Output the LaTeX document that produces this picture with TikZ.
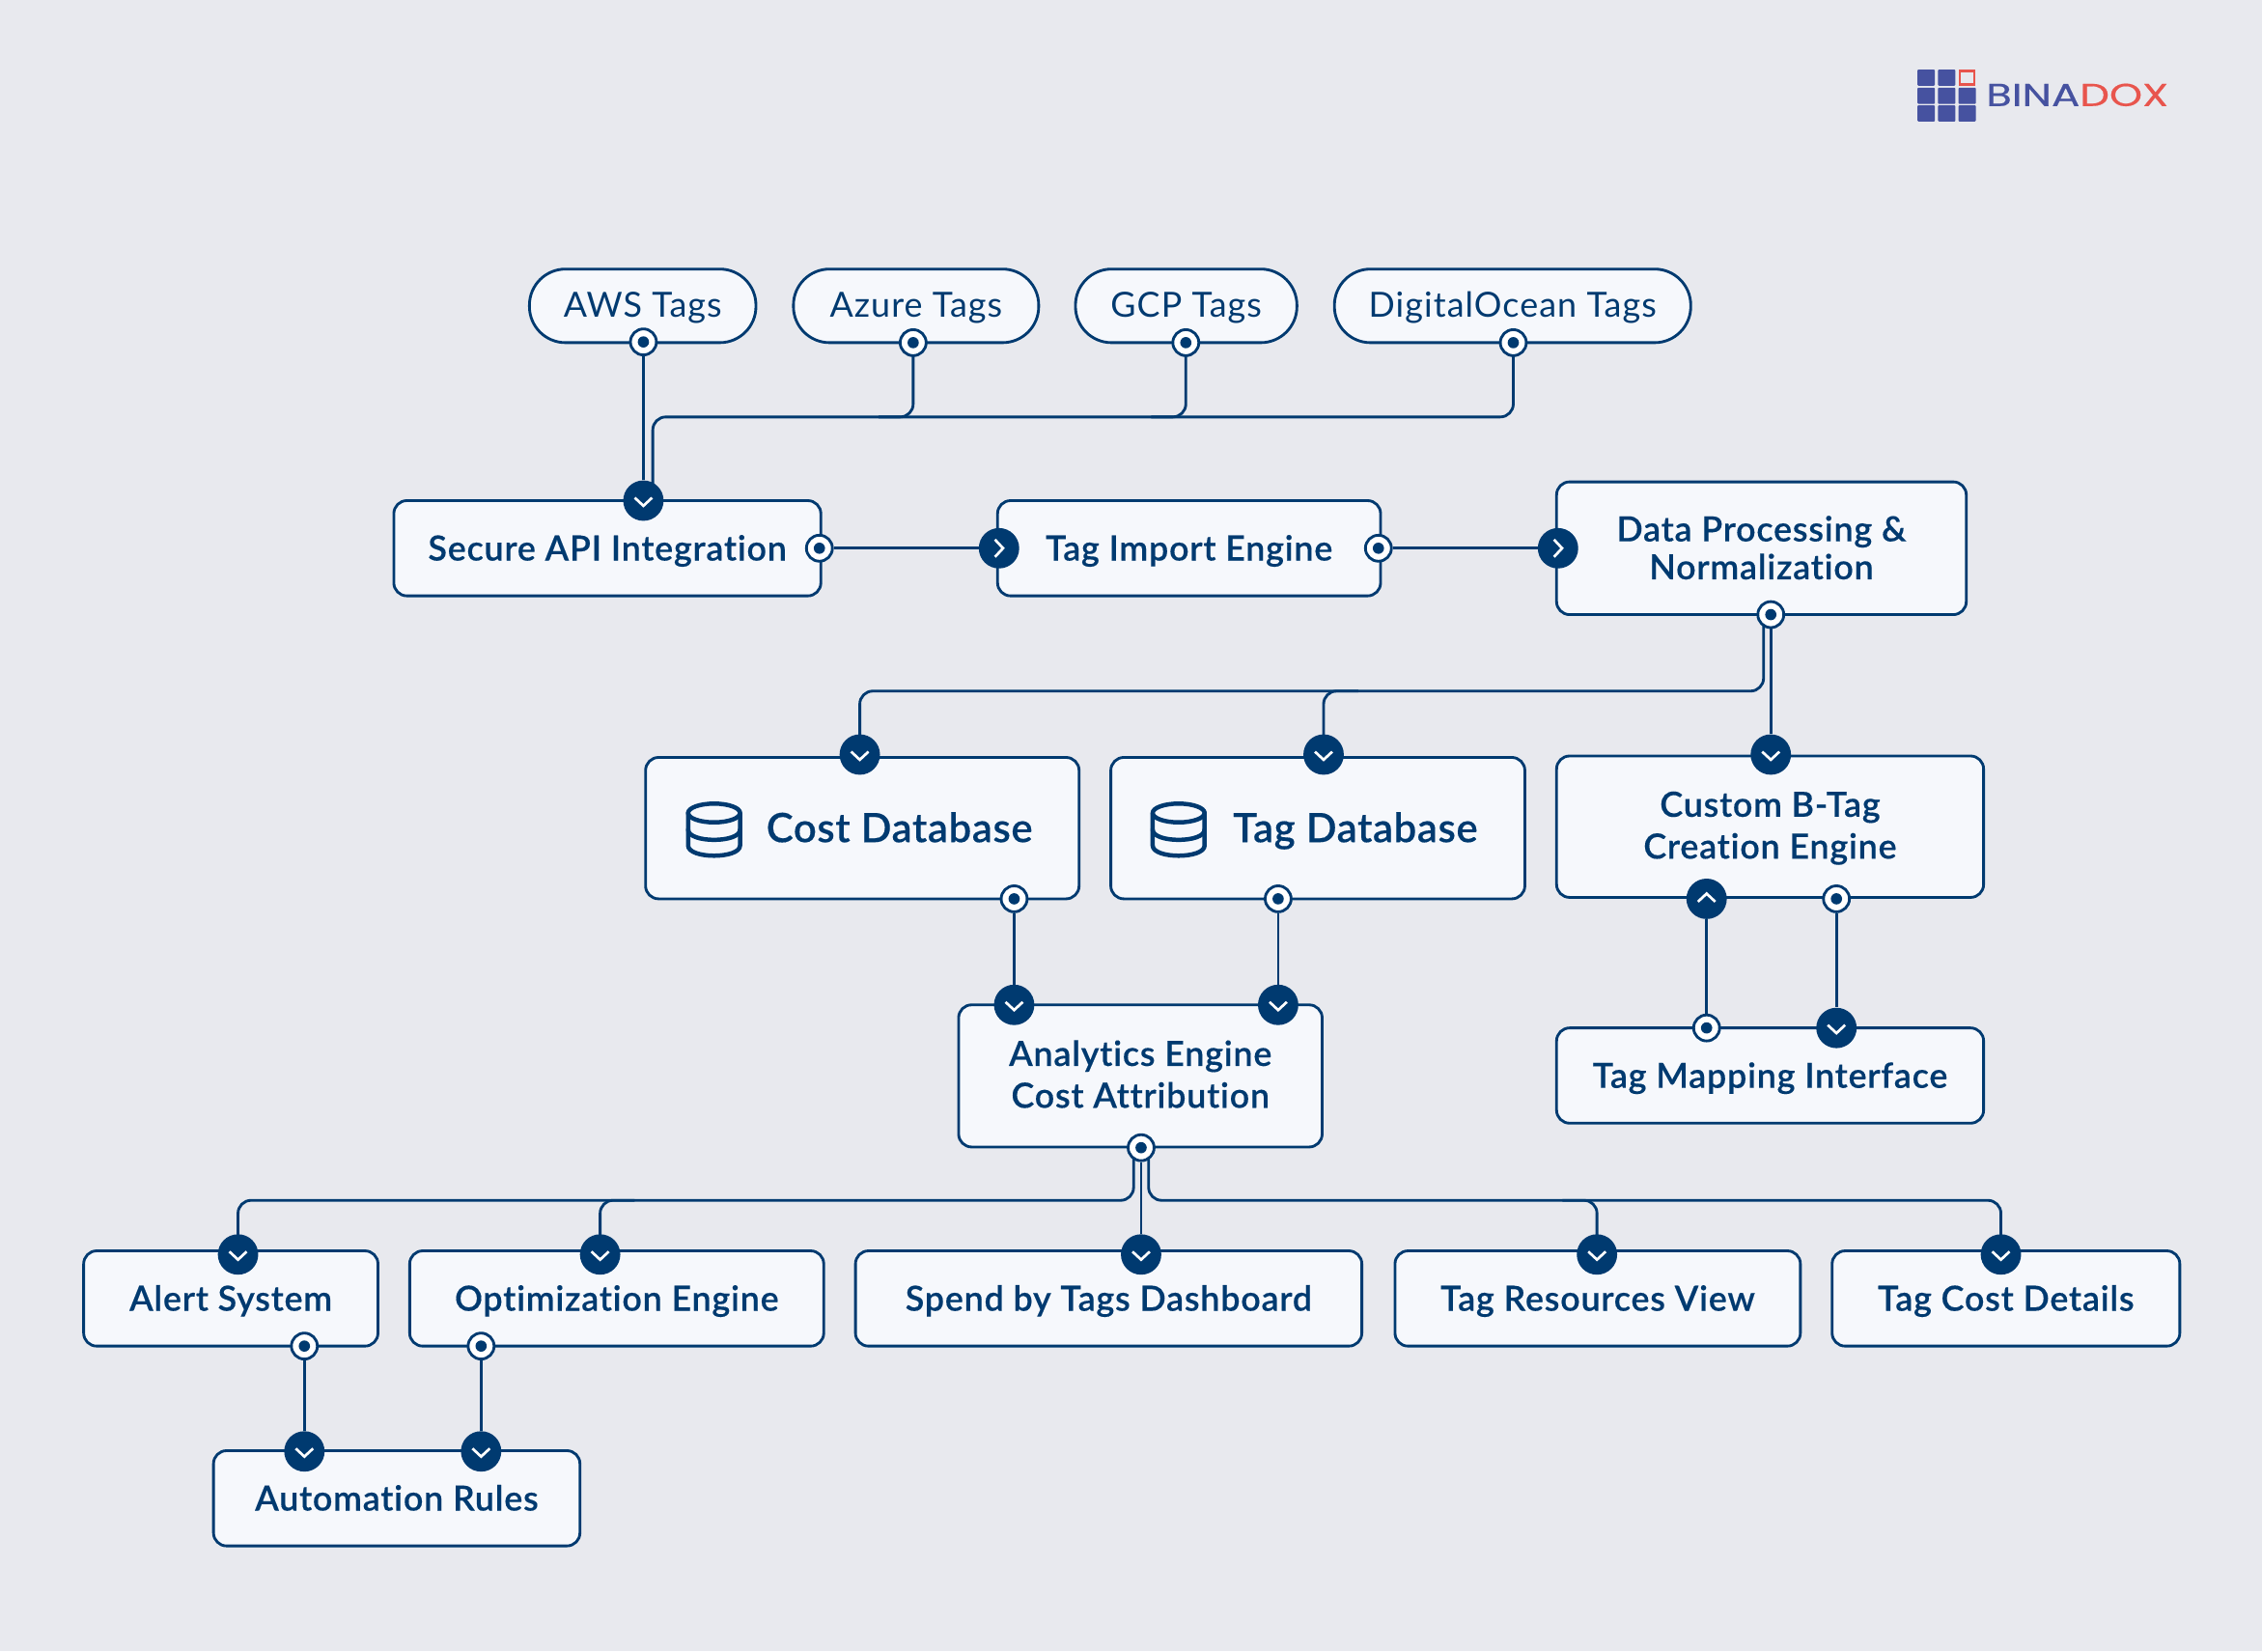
\documentclass[tikz,border=0pt]{standalone}
\usepackage{fontspec}
\setmainfont{Lato}[LetterSpace=3,RawFeature={-liga}]
\newfontfamily\medfont{Lato Semibold}[LetterSpace=2.2,FakeBold=0.3,RawFeature={-liga}]
\newfontfamily\dbfont{Lato Semibold}[LetterSpace=1.5,FakeBold=0.3,RawFeature={-liga}]
\newfontfamily\logofont{Poppins}[FakeBold=0.5]
\usetikzlibrary{backgrounds}
\definecolor{navy}{HTML}{003A70}
\definecolor{pagebg}{HTML}{E8E9EE}
\definecolor{boxfill}{HTML}{F6F8FC}
\definecolor{logoblue}{HTML}{4652A0}
\definecolor{logored}{HTML}{E8554D}
\tikzset{
  boxbase/.style={draw=navy,fill=boxfill,line width=1.9pt,rounded corners=9pt,inner sep=0pt,align=center,text=navy},
  cardbox/.style={boxbase,font=\fontsize{24}{29}\selectfont\medfont},
  oneline/.style={cardbox,text height=17pt,text depth=0pt},
  pillbox/.style={boxbase,rounded corners=25pt,font=\fontsize{24}{28.5}\selectfont,text height=16pt,text depth=0pt},
  dblabel/.style={text=navy,inner sep=0pt,font=\fontsize{28}{30}\selectfont\dbfont,text height=19.4pt,text depth=0pt},
  pinnode/.style={circle,draw=navy,fill=white,line width=1.9pt,minimum size=18pt,inner sep=0pt,
    path picture={\fill[navy] (path picture bounding box.center) circle [radius=3.9pt];}},
  markbase/.style={circle,fill=navy,minimum size=28pt,inner sep=0pt},
  mdown/.style={markbase,path picture={\draw[white,line width=1.8pt]
    ([shift={(-6pt,2pt)}]path picture bounding box.center) -- ([shift={(0pt,-3.6pt)}]path picture bounding box.center) -- ([shift={(6pt,2pt)}]path picture bounding box.center);}},
  mup/.style={markbase,path picture={\draw[white,line width=1.8pt]
    ([shift={(-6pt,-2pt)}]path picture bounding box.center) -- ([shift={(0pt,3.6pt)}]path picture bounding box.center) -- ([shift={(6pt,-2pt)}]path picture bounding box.center);}},
  mright/.style={markbase,path picture={\draw[white,line width=1.8pt]
    ([shift={(-2.8pt,6pt)}]path picture bounding box.center) -- ([shift={(2.8pt,0pt)}]path picture bounding box.center) -- ([shift={(-2.8pt,-6pt)}]path picture bounding box.center);}},
  wire/.style={draw=navy,line width=1.9pt,rounded corners=9pt},
  dbicon/.style={draw=navy,line width=3pt,line cap=round,line join=round},
  logocell/.style={fill=logoblue,rounded corners=0.6pt}
}
\newcommand{\bx}[7][]{%
  \pgfmathsetmacro{\bxw}{#5-#3}\pgfmathsetmacro{\bxh}{#6-#4}%
  \pgfmathsetmacro{\bxcx}{(#3+#5)/2}\pgfmathsetmacro{\bxcy}{(#4+#6)/2}%
  \node[#1,minimum width=\bxw pt,minimum height=\bxh pt] (#2) at (\bxcx,\bxcy) {#7};}
\newcommand{\dbglyph}[2]{%
  \begin{scope}[shift={(#1,#2)}]
  \draw[dbicon] (20,8.5) ellipse [x radius=18,y radius=6.5];
  \draw[dbicon] (2,8.5) -- (2,31) .. controls (2,40.5) and (38,40.5) .. (38,31) -- (38,8.5);
  \draw[dbicon] (2,20) .. controls (2,29.5) and (38,29.5) .. (38,20);
  \end{scope}}
\begin{document}
\begin{tikzpicture}[x=1pt,y=-1pt]
\useasboundingbox (0,0) rectangle (1568,1144.4);
\begin{pgfonlayer}{background}
\fill[pagebg] (0,0) rectangle (1568,1144.4);
\end{pgfonlayer}
% logo
\foreach \cx/\cy in {1329.2/48.2,1343.4/48.2,1329.2/60.8,1343.4/60.8,1357.6/60.8,1329.2/73,1343.4/73,1357.6/73}
  \fill[logocell] (\cx,\cy) rectangle ++(12,11.2);
\draw[logored,line width=1.7pt] (1358.5,49.1) rectangle (1368.7,58.5);
\node[inner sep=0pt,anchor=west,xscale=1.32,font=\fontsize{22}{22}\selectfont\logofont] (logo) at (1376.5,65.8) {\textcolor{logoblue}{BINA}\textcolor{logored}{DOX}};
% pills
\bx[pillbox]{aws}{367}{186.5}{524}{237.5}{AWS Tags}
\bx[pillbox]{azure}{550}{186.5}{720}{237.5}{Azure Tags}
\bx[pillbox]{gcp}{745.5}{186.5}{899}{237.5}{GCP Tags}
\bx[pillbox]{docean}{925}{186.5}{1172}{237.5}{DigitalOcean Tags}
% boxes
\bx[oneline]{secure}{273}{347}{569}{413}{Secure API Integration}
\bx[oneline]{import}{691.5}{347}{957}{413}{Tag Import Engine}
\bx[cardbox,text height=43pt,text depth=0pt,font=\fontsize{24}{26.3}\selectfont\medfont]{dataproc}{1079}{334}{1363}{426}{Data Processing \&\\Normalization}
\bx[cardbox]{costdb}{447.5}{525}{748}{623}{}
\bx[cardbox]{tagdb}{770}{525}{1057}{623}{}
\bx[cardbox,text height=44.2pt,text depth=0pt]{custom}{1079}{524}{1375}{622}{Custom B-Tag\\Creation Engine}
\bx[oneline]{mapping}{1079}{712.5}{1375}{778.5}{Tag Mapping Interface}
\bx[cardbox,text height=44.1pt,text depth=0pt]{analytics}{664.5}{696.5}{916.5}{795}{Analytics Engine\\Cost Attribution}
\bx[oneline]{alert}{58}{867}{262}{933}{Alert System}
\bx[oneline]{optim}{284}{867}{571}{933}{Optimization Engine}
\bx[oneline]{spend}{593}{867}{944}{933}{Spend by Tags Dashboard}
\bx[oneline]{resview}{967}{867}{1248}{933}{Tag Resources View}
\bx[oneline]{costdet}{1270}{867}{1511}{933}{Tag Cost Details}
\bx[oneline]{autorules}{148}{1005.5}{402}{1071.5}{Automation Rules}
% database cards
\dbglyph{475}{555}
\dbglyph{797}{555}
\node[dblabel] (costlabel) at (623.5,574) {Cost Database};
\node[dblabel] (taglabel) at (939.5,574) {Tag Database};
% output pins
\node[pinnode] (pAws) at (446,237) {};
\node[pinnode] (pAzure) at (633,237.5) {};
\node[pinnode] (pGcp) at (822,237.5) {};
\node[pinnode] (pDo) at (1049,237.5) {};
\node[pinnode] (pSecure) at (568,380) {};
\node[pinnode] (pImport) at (955.5,380) {};
\node[pinnode] (pData) at (1227.5,426) {};
\node[pinnode] (pCost) at (703,623) {};
\node[pinnode] (pTag) at (886,623) {};
\node[pinnode] (pCustom) at (1273,623) {};
\node[pinnode] (pMapping) at (1183,712.5) {};
\node[pinnode] (pAnalytics) at (791,795.5) {};
\node[pinnode] (pAlert) at (211,933) {};
\node[pinnode] (pOptim) at (333.5,933) {};
% input markers
\node[mdown] (mSecure) at (446,347) {};
\node[mright] (mImport) at (692.5,380) {};
\node[mright] (mData) at (1080,380) {};
\node[mdown] (mCost) at (596,523) {};
\node[mdown] (mTag) at (917.5,523) {};
\node[mdown] (mCustom) at (1227.5,523) {};
\node[mup] (mCustomUp) at (1183,623) {};
\node[mdown] (mMapping) at (1273,712.5) {};
\node[mdown] (mAnaL) at (703,696.5) {};
\node[mdown] (mAnaR) at (886,696.5) {};
\node[mdown] (mAlert) at (165,869.5) {};
\node[mdown] (mOptim) at (416,869.5) {};
\node[mdown] (mSpend) at (791,869.5) {};
\node[mdown] (mRes) at (1107,869.5) {};
\node[mdown] (mDet) at (1387,869.5) {};
\node[mdown] (mAutoL) at (211,1006) {};
\node[mdown] (mAutoR) at (333.5,1006) {};
% bus levels
\coordinate (busTop) at (0,289);
\coordinate (busData) at (0,479);
\coordinate (busAna) at (0,832);
\coordinate (inSec) at ([xshift=6.5pt]mSecure.center);
\coordinate (outDataL) at ([xshift=-5pt]pData.center);
\coordinate (outAnaL) at ([xshift=-5.2pt]pAnalytics.center);
\coordinate (outAnaR) at ([xshift=5.2pt]pAnalytics.center);
% connectors
\begin{pgfonlayer}{background}
\draw[wire] (pAws) -- (mSecure);
\draw[wire] (pDo.center) -- (pDo.center |- busTop) -- (inSec |- busTop) -- (inSec);
\draw[wire] (pGcp.center) -- (pGcp.center |- busTop) -- ([xshift=-24pt]pGcp.center |- busTop);
\draw[wire] (pAzure.center) -- (pAzure.center |- busTop) -- ([xshift=-24pt]pAzure.center |- busTop);
\draw[wire] (pSecure) -- (mImport);
\draw[wire] (pImport) -- (mData);
\draw[wire] (pData) -- (mCustom);
\draw[wire] (outDataL) -- (outDataL |- busData) -- (mCost.center |- busData) -- (mCost.center);
\draw[wire] ([xshift=24pt]mTag.center |- busData) -- (mTag.center |- busData) -- (mTag.center);
\draw[wire] (pCost) -- (mAnaL);
\draw[wire] (pTag) -- (mAnaR);
\draw[wire] (pCustom) -- (mMapping);
\draw[wire] (pMapping) -- (mCustomUp);
\draw[wire] (pAnalytics) -- (mSpend);
\draw[wire] (outAnaL) -- (outAnaL |- busAna) -- (mAlert.center |- busAna) -- (mAlert.center);
\draw[wire] ([xshift=24pt]mOptim.center |- busAna) -- (mOptim.center |- busAna) -- (mOptim.center);
\draw[wire] (outAnaR) -- (outAnaR |- busAna) -- (mDet.center |- busAna) -- (mDet.center);
\draw[wire] ([xshift=-24pt]mRes.center |- busAna) -- (mRes.center |- busAna) -- (mRes.center);
\draw[wire] (pAlert) -- (mAutoL);
\draw[wire] (pOptim) -- (mAutoR);
\end{pgfonlayer}
\end{tikzpicture}
\end{document}
